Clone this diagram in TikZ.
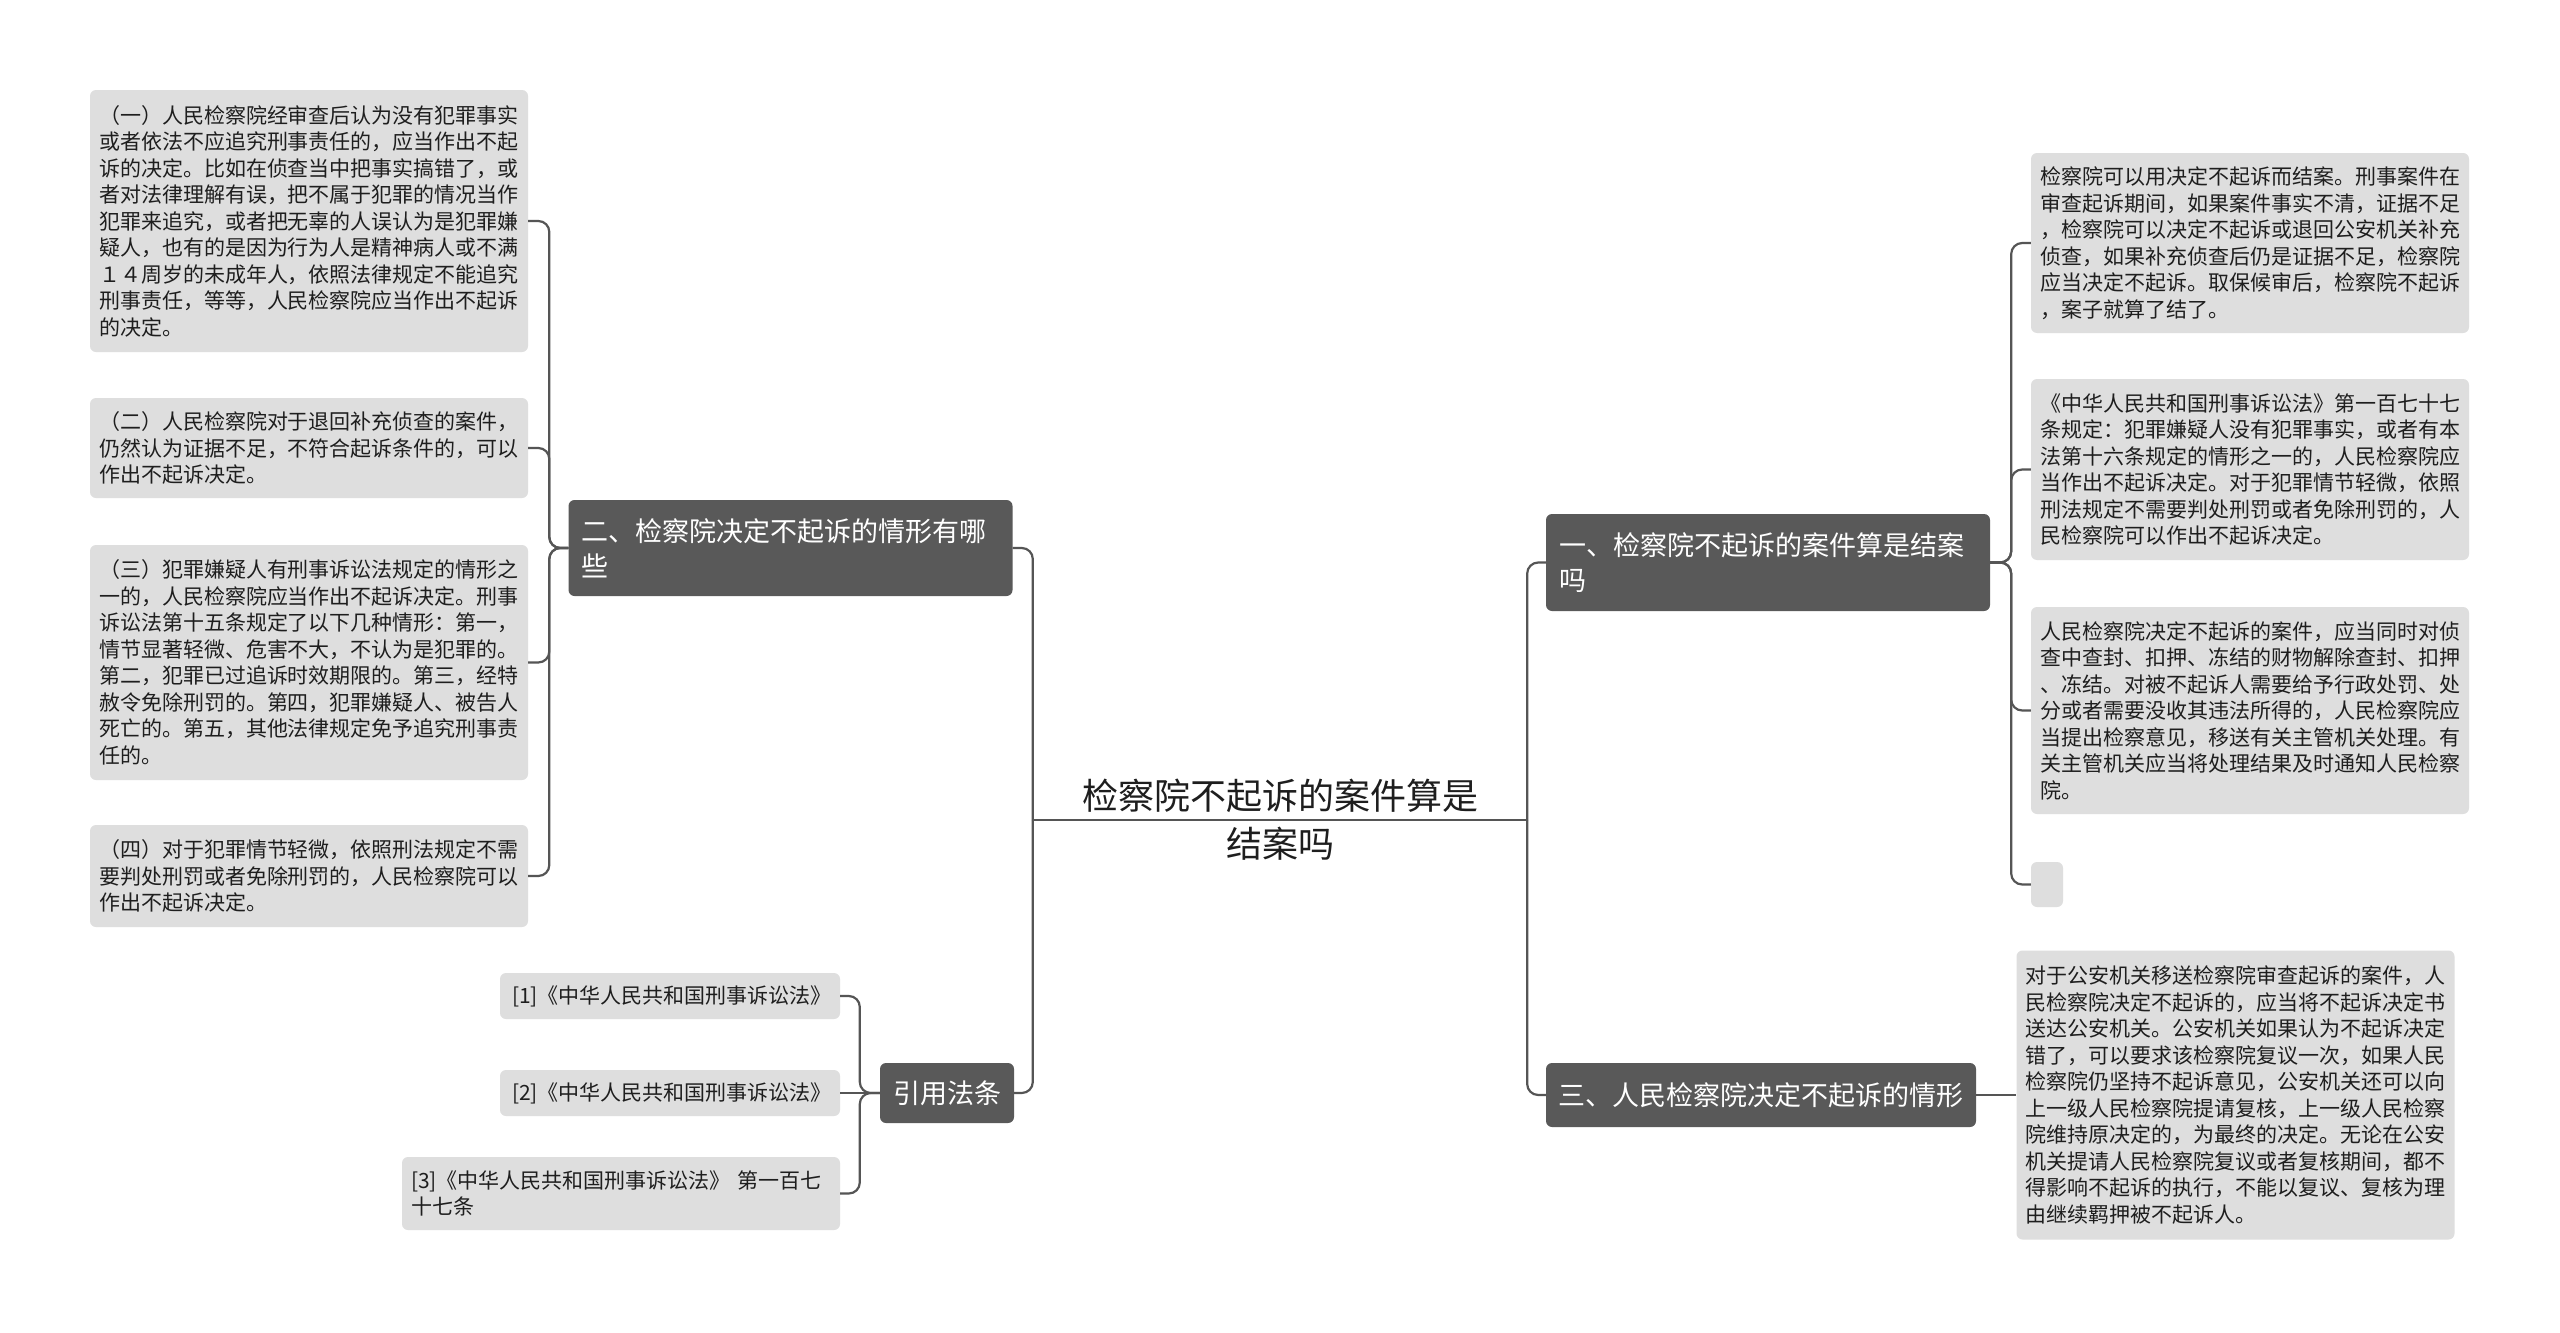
\documentclass[tikz,border=0pt]{standalone}
\usepackage{fontspec}
\setmainfont{Noto Sans CJK SC}
\definecolor{leafgray}{HTML}{DEDEDE}
\definecolor{darkfill}{HTML}{595959}
\definecolor{linegray}{HTML}{555555}
\definecolor{txt}{HTML}{1E1E1E}
\begin{document}
\begin{tikzpicture}[x=1pt,y=-1pt,
  leaf/.style={fill=leafgray, rounded corners=6pt, text=txt, align=left, text width=420pt, inner xsep=9pt, inner ysep=0pt, font=\fontsize{21}{26.5}\selectfont},
  emptyleaf/.style={fill=leafgray, rounded corners=6pt, minimum width=32pt, minimum height=45pt, inner sep=0pt},
  darkbox/.style={fill=darkfill, rounded corners=6pt, text=white, align=left, inner xsep=13pt, inner ysep=0pt, font=\fontsize{27}{35}\selectfont},
  conn/.style={draw=linegray, line width=2.2pt, rounded corners=11pt},
]
\fill[white] (0,0) rectangle (2560,1333);
\useasboundingbox (0,0) rectangle (2560,1333);

% root
\node[font=\fontsize{36}{48}\selectfont, align=center, minimum width=494pt, inner xsep=0pt, text=txt] (root) at (1280,820) {检察院不起诉的案件算是\\结案吗};

% main branches
\node[darkbox, text width=418pt, minimum height=96pt] (b2) at (790.5,548) {二、检察院决定不起诉的情形有哪\\些};
\node[darkbox, text width=418pt, minimum height=97pt] (b1) at (1768,562.5) {一、检察院不起诉的案件算是结案\\吗};
\node[darkbox, text width=406pt, inner xsep=12pt, minimum height=64pt] (b3) at (1761,1095) {三、人民检察院决定不起诉的情形};
\node[darkbox, text width=108pt, align=center, minimum height=60pt] (yy) at (947,1093) {引用法条};

% left leaves
\node[leaf, minimum height=262pt] (l1) at (309,221) {（一）人民检察院经审查后认为没有犯罪事实\\或者依法不应追究刑事责任的，应当作出不起\\诉的决定。比如在侦查当中把事实搞错了，或\\者对法律理解有误，把不属于犯罪的情况当作\\犯罪来追究，或者把无辜的人误认为是犯罪嫌\\疑人，也有的是因为行为人是精神病人或不满\\１４周岁的未成年人，依照法律规定不能追究\\刑事责任，等等，人民检察院应当作出不起诉\\的决定。};
\node[leaf, minimum height=100pt] (l2) at (309,448) {（二）人民检察院对于退回补充侦查的案件，\\仍然认为证据不足，不符合起诉条件的，可以\\作出不起诉决定。};
\node[leaf, minimum height=235pt] (l3) at (309,662.5) {（三）犯罪嫌疑人有刑事诉讼法规定的情形之\\一的，人民检察院应当作出不起诉决定。刑事\\诉讼法第十五条规定了以下几种情形：第一，\\情节显著轻微、危害不大，不认为是犯罪的。\\第二，犯罪已过追诉时效期限的。第三，经特\\赦令免除刑罚的。第四，犯罪嫌疑人、被告人\\死亡的。第五，其他法律规定免予追究刑事责\\任的。};
\node[leaf, minimum height=102pt] (l4) at (309,876) {（四）对于犯罪情节轻微，依照刑法规定不需\\要判处刑罚或者免除刑罚的，人民检察院可以\\作出不起诉决定。};

% right leaves
\node[leaf, minimum height=180pt] (r1) at (2250,243) {检察院可以用决定不起诉而结案。刑事案件在\\审查起诉期间，如果案件事实不清，证据不足\\，检察院可以决定不起诉或退回公安机关补充\\侦查，如果补充侦查后仍是证据不足，检察院\\应当决定不起诉。取保候审后，检察院不起诉\\，案子就算了结了。};
\node[leaf, minimum height=181pt] (r2) at (2250,469.5) {《中华人民共和国刑事诉讼法》第一百七十七\\条规定：犯罪嫌疑人没有犯罪事实，或者有本\\法第十六条规定的情形之一的，人民检察院应\\当作出不起诉决定。对于犯罪情节轻微，依照\\刑法规定不需要判处刑罚或者免除刑罚的，人\\民检察院可以作出不起诉决定。};
\node[leaf, minimum height=207pt] (r3) at (2250,710.5) {人民检察院决定不起诉的案件，应当同时对侦\\查中查封、扣押、冻结的财物解除查封、扣押\\、冻结。对被不起诉人需要给予行政处罚、处\\分或者需要没收其违法所得的，人民检察院应\\当提出检察意见，移送有关主管机关处理。有\\关主管机关应当将处理结果及时通知人民检察\\院。};
\node[emptyleaf] (r4) at (2047,884.5) {};
\node[leaf, minimum height=289pt] (r5) at (2235.5,1095) {对于公安机关移送检察院审查起诉的案件，人\\民检察院决定不起诉的，应当将不起诉决定书\\送达公安机关。公安机关如果认为不起诉决定\\错了，可以要求该检察院复议一次，如果人民\\检察院仍坚持不起诉意见，公安机关还可以向\\上一级人民检察院提请复核，上一级人民检察\\院维持原决定的，为最终的决定。无论在公安\\机关提请人民检察院复议或者复核期间，都不\\得影响不起诉的执行，不能以复议、复核为理\\由继续羁押被不起诉人。};

% citation leaves
\node[leaf, text width=316pt, inner xsep=12pt, minimum height=46pt] (c1) at (670,996) {[1]《中华人民共和国刑事诉讼法》};
\node[leaf, text width=316pt, inner xsep=12pt, minimum height=46pt] (c2) at (670,1093) {[2]《中华人民共和国刑事诉讼法》};
\node[leaf, minimum height=73pt] (c3) at (621,1193.5) {[3]《中华人民共和国刑事诉讼法》 第一百七\\十七条};

% connectors
\draw[conn] (root.west) -- (root.east);
\draw[conn] (b2.east) -| (root.west);
\draw[conn] (yy.east) -| (root.west);
\draw[conn] (root.east) |- (b1.west);
\draw[conn] (root.east) |- (b3.west);
\foreach \n in {l1,l2,l3,l4} \draw[conn] (b2.west) -- ++(-19,0) |- (\n.east);
\foreach \n in {r1,r2,r3,r4} \draw[conn] (b1.east) -- ++(21,0) |- (\n.west);
\draw[conn] (b3.east) -- (r5.west);
\foreach \n in {c1,c3} \draw[conn] (yy.west) -- ++(-20,0) |- (\n.east);
\draw[conn] (yy.west) -- (c2.east);
\end{tikzpicture}
\end{document}
